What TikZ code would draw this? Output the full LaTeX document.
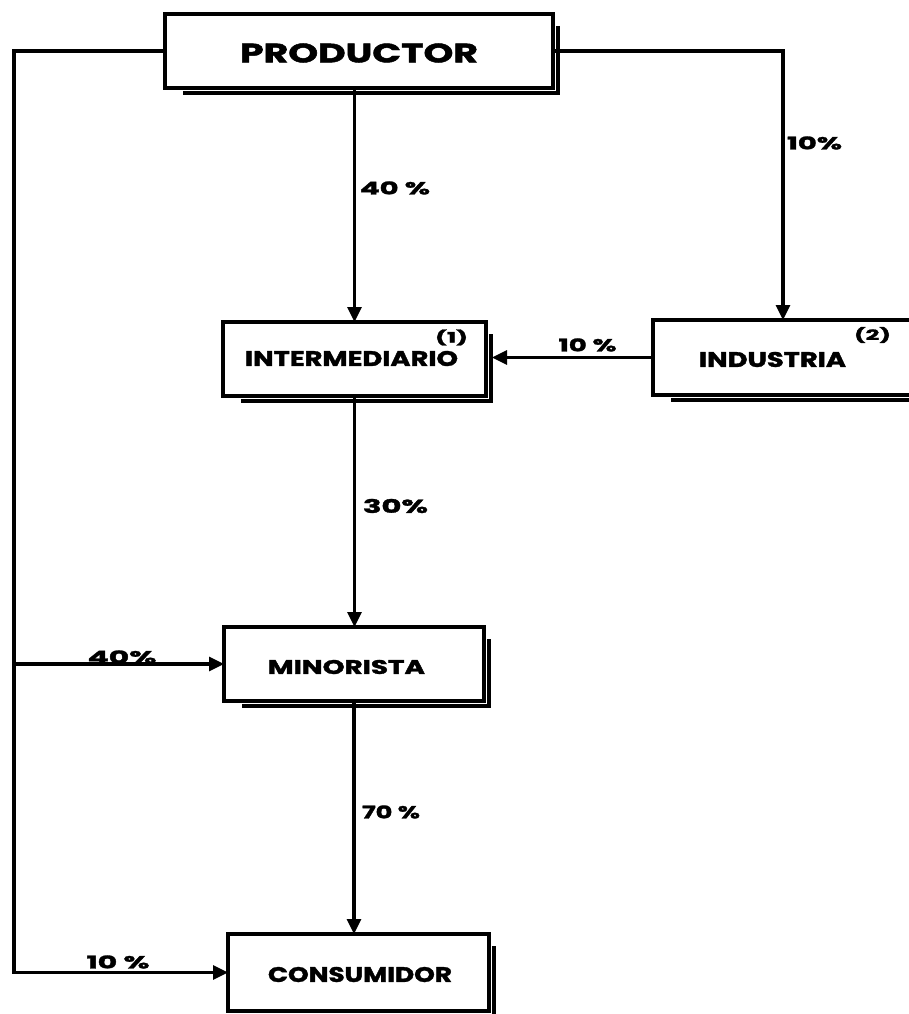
\documentclass[tikz,border=0pt]{standalone}
\usepackage{fontspec}
\setmainfont{Poppins}[BoldFeatures={FakeBold=1.6}]
\usetikzlibrary{arrows.meta,calc}
\newcommand{\fittxt}[3]{\resizebox{#1pt}{#2pt}{\bfseries #3}}
\newcommand{\fittxtp}[3]{\resizebox*{#1pt}{#2pt}{\bfseries #3}}
\tikzset{
  boxnode/.style={draw=black, line width=3.4pt, fill=white, rectangle, inner sep=0pt, outer sep=0pt},
  shadowline/.style={draw=black, line width=4.6pt},
  conn/.style={draw=black, line width=3.2pt},
  arr/.style={conn, -{Triangle[length=15pt,width=14pt]}},
  txt/.style={inner sep=0pt, outer sep=0pt, text=black}
}
\begin{document}
\begin{tikzpicture}[x=1pt,y=-1pt]
\useasboundingbox (0,0) rectangle (909,1014);
\clip (0,0) rectangle (909,1014);
\fill[white] (0,0) rectangle (909,1014);

% boxes
\node[boxnode, minimum width=388pt, minimum height=74pt] (prod) at (359,51) {};
\node[boxnode, minimum width=263pt, minimum height=74pt] (inter) at (354.5,359) {};
\node[boxnode, minimum width=260pt, minimum height=75pt] (indus) at (783,357.5) {};
\node[boxnode, minimum width=260pt, minimum height=74pt] (mino) at (354,664) {};
\node[boxnode, minimum width=261pt, minimum height=77pt] (cons) at (358.5,972.5) {};

% shadows
\foreach \b in {prod,inter,indus,mino,cons}{
  \draw[shadowline] ($(\b.south west)+(18,5)$) -- ($(\b.south east)+(5,5)$) -- ($(\b.north east)+(5,12)$);
}

% box texts
\node[txt] (tprod) at (359,53) {\fittxt{238}{19}{PRODUCTOR}};
\node[txt] (tinter) at (351.5,358.5) {\fittxt{213}{15}{INTERMEDIARIO}};
\node[txt] (tinter1) at (451.5,337.5) {\fittxtp{33}{16}{(1)}};
\node[txt] (tindus) at (772.5,359.5) {\fittxt{147}{15}{INDUSTRIA}};
\node[txt] (tindus2) at (872.5,335) {\fittxtp{37}{16}{(2)}};
\node[txt] (tmino) at (346.5,667) {\fittxt{157}{14}{MINORISTA}};
\node[txt] (tcons) at (360,974.5) {\fittxt{184}{15}{CONSUMIDOR}};

% connectors
\coordinate (lt) at (14,51);
\coordinate (rt) at (783,51);
\draw[arr] (prod.south -| inter.north) -- (inter.north);
\draw[arr] (prod.east) -- (rt) -- (indus.north);
\draw[arr] (indus.west) -- ($(inter.east |- indus.west)+(6,0)$);
\draw[arr] (inter.south) -- (inter.south |- mino.north);
\draw[arr] (mino.south) -- (mino.south |- cons.north);
\draw[arr, line join=miter] (prod.west) -- (lt) |- (cons.west);
\draw[arr] (lt |- mino.west) -- (mino.west);

% percentage labels
\node[txt] (p1) at (395,188) {\fittxt{70}{13}{40 \%}};
\node[txt] (p2) at (814.5,143) {\fittxt{55}{13}{10\%}};
\node[txt] (p3) at (587.5,345) {\fittxt{58}{13}{10 \%}};
\node[txt] (p4) at (395.5,506) {\fittxt{65}{14}{30\%}};
\node[txt] (p5) at (391,812) {\fittxt{58}{13}{70 \%}};
\node[txt] (p6) at (122,657) {\fittxt{69}{13}{40\%}};
\node[txt] (p7) at (118,962) {\fittxt{63}{13}{10 \%}};
\end{tikzpicture}
\end{document}
